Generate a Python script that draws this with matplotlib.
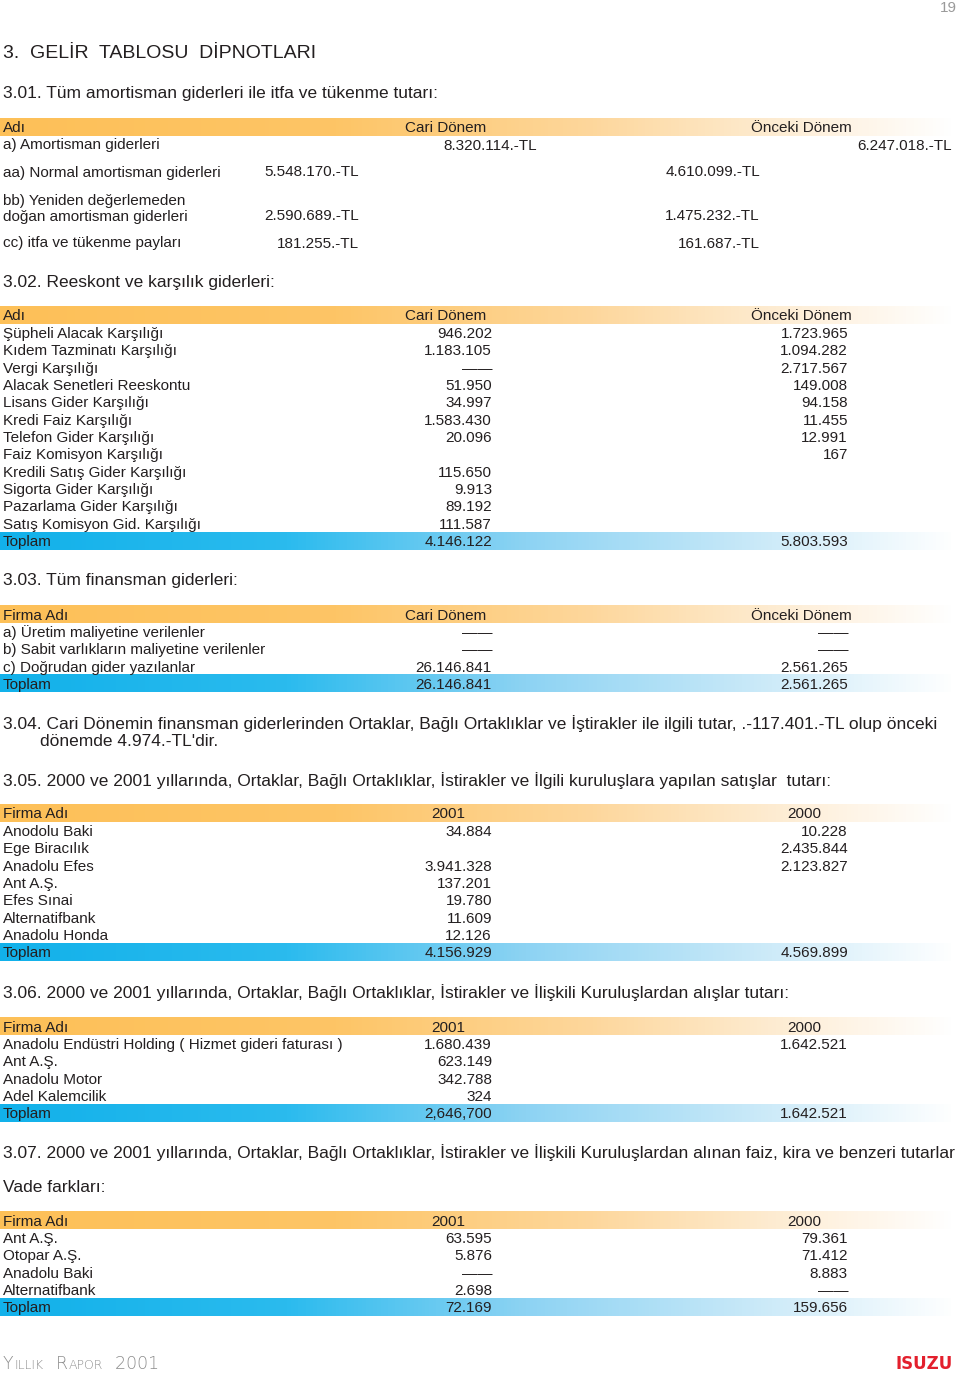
import numpy as np
import matplotlib.pyplot as plt
from matplotlib.colors import LinearSegmentedColormap

plt.rcParams['font.family'] = ['Liberation Sans', 'DejaVu Sans']

W, H = 960, 1373
DASH = '——'
TXT = '#231f20'

# 3.01 amortisman
amort_names = ['a) Amortisman giderleri', 'aa) Normal amortisman giderleri',
               'bb) Yeniden değerlemeden\ndoğan amortisman giderleri',
               'cc) itfa ve tükenme payları']
amort_cur = ['8.320.114.-TL', '5.548.170.-TL', '2.590.689.-TL', '181.255.-TL']
amort_prev = ['6.247.018.-TL', '4.610.099.-TL', '1.475.232.-TL', '161.687.-TL']

# 3.02 reeskont ve karşılık
rees_names = ['Şüpheli Alacak Karşılığı', 'Kıdem Tazminatı Karşılığı', 'Vergi Karşılığı',
              'Alacak Senetleri Reeskontu', 'Lisans Gider Karşılığı', 'Kredi Faiz Karşılığı',
              'Telefon Gider Karşılığı', 'Faiz Komisyon Karşılığı', 'Kredili Satış Gider Karşılığı',
              'Sigorta Gider Karşılığı', 'Pazarlama Gider Karşılığı', 'Satış Komisyon Gid. Karşılığı']
rees_cur = ['946.202', '1.183.105', DASH, '51.950', '34.997', '1.583.430', '20.096', '',
            '115.650', '9.913', '89.192', '111.587']
rees_prev = ['1.723.965', '1.094.282', '2.717.567', '149.008', '94.158', '11.455', '12.991',
             '167', '', '', '', '']
rees_total = ['4.146.122', '5.803.593']

# 3.03 finansman giderleri
fin_names = ['a) Üretim maliyetine verilenler', 'b) Sabit varlıkların maliyetine verilenler',
             'c) Doğrudan gider yazılanlar']
fin_cur = [DASH, DASH, '26.146.841']
fin_prev = [DASH, DASH, '2.561.265']
fin_total = ['26.146.841', '2.561.265']

# 3.05 satışlar
sat_names = ['Anodolu Baki', 'Ege Biracılık', 'Anadolu Efes', 'Ant A.Ş.', 'Efes Sınai',
             'Alternatifbank', 'Anadolu Honda']
sat_2001 = ['34.884', '', '3.941.328', '137.201', '19.780', '11.609', '12.126']
sat_2000 = ['10.228', '2.435.844', '2.123.827', '', '', '', '']
sat_total = ['4.156.929', '4.569.899']

# 3.06 alışlar
alis_names = ['Anadolu Endüstri Holding ( Hizmet gideri faturası )', 'Ant A.Ş.',
              'Anadolu Motor', 'Adel Kalemcilik']
alis_2001 = ['1.680.439', '623.149', '342.788', '324']
alis_2000 = ['1.642.521', '', '', '']
alis_total = ['2,646,700', '1.642.521']

# 3.07 vade farkları
vade_names = ['Ant A.Ş.', 'Otopar A.Ş.', 'Anadolu Baki', 'Alternatifbank']
vade_2001 = ['63.595', '5.876', DASH, '2.698']
vade_2000 = ['79.361', '71.412', '8.883', DASH]
vade_total = ['72.169', '159.656']

orange = LinearSegmentedColormap.from_list(
    'org', [(0, '#fdc058'), (0.35, '#fdc566'), (0.62, '#fdd79c'), (0.85, '#fef0dc'), (1, '#ffffff')])
blue = LinearSegmentedColormap.from_list(
    'blu', [(0, '#12b1ea'), (0.3, '#2bbbee'), (0.55, '#8dd3f3'), (0.78, '#c6e8f8'), (1, '#ffffff')])
grad = np.linspace(0, 1, 256).reshape(1, -1)

fig = plt.figure(figsize=(W / 100, H / 100), dpi=100)
ax = fig.add_axes([0, 0, 1, 1])
ax.set_xlim(0, W)
ax.set_ylim(H, 0)
ax.axis('off')

FS = 11
HS = 12.5
ROW = 17.35


def txt(x, y, s, ha='left', size=FS, **kw):
    kw.setdefault('color', TXT)
    ax.text(x, y, s, ha=ha, va='center_baseline', fontsize=size, **kw)


def bar(y, cmap):
    ax.imshow(grad, extent=[0, 955, y + 9, y - 9], cmap=cmap, aspect='auto', zorder=0)


def table(y, head, names, c1, c2, total, cols=(405, 751), right=(492, 848)):
    bar(y, orange)
    for x, s in zip((3,) + cols, head):
        txt(x, y, s)
    for i, (n, a, b) in enumerate(zip(names, c1, c2)):
        yy = y + ROW * (i + 1)
        txt(3, yy, n)
        txt(right[0], yy, a, ha='right')
        txt(right[1], yy, b, ha='right')
    if total:
        yy = y + ROW * (len(names) + 1)
        bar(yy, blue)
        txt(3, yy, 'Toplam')
        txt(right[0], yy, total[0], ha='right')
        txt(right[1], yy, total[1], ha='right')


# page header
txt(957, 6, '19', ha='right', size=11, color='#9a9a9a')
txt(3, 51, '3. GELİR TABLOSU DİPNOTLARI'.replace(' ', '  '), size=14)
txt(3, 92, '3.01. Tüm amortisman giderleri ile itfa ve tükenme tutarı:', size=HS)

# 3.01
bar(127, orange)
txt(3, 127, 'Adı')
txt(405, 127, 'Cari Dönem')
txt(751, 127, 'Önceki Dönem')
txt(3, 144, amort_names[0])
txt(537, 144, amort_cur[0], ha='right')
txt(952, 144, amort_prev[0], ha='right')
for yy, n, a, b in zip([171, 215, 242], amort_names[1:], amort_cur[1:], amort_prev[1:]):
    txt(3, yy - (8.5 if '\n' in n else 0), n, linespacing=1.15)
    txt(359, yy, a, ha='right')
    txt(760, yy, b, ha='right')

txt(3, 281, '3.02. Reeskont ve karşılık giderleri:', size=HS)
table(315, ['Adı', 'Cari Dönem', 'Önceki Dönem'], rees_names, rees_cur, rees_prev, rees_total)

txt(3, 579, '3.03. Tüm finansman giderleri:', size=HS)
table(614, ['Firma Adı', 'Cari Dönem', 'Önceki Dönem'], fin_names, fin_cur, fin_prev, fin_total)

txt(3, 722, '3.04. Cari Dönemin finansman giderlerinden Ortaklar, Bağlı Ortaklıklar ve İştirakler '
            'ile ilgili tutar, .-117.401.-TL olup önceki', size=HS)
txt(40, 740, "dönemde 4.974.-TL'dir.", size=HS)

txt(3, 779, '3.05. 2000 ve 2001 yıllarında, Ortaklar, Bağlı Ortaklıklar, İstirakler ve İlgili '
            'kuruluşlara yapılan satışlar  tutarı:', size=HS)
table(813, ['Firma Adı', '2001', '2000'], sat_names, sat_2001, sat_2000, sat_total, cols=(431, 787))

txt(3, 991, '3.06. 2000 ve 2001 yıllarında, Ortaklar, Bağlı Ortaklıklar, İstirakler ve İlişkili '
            'Kuruluşlardan alışlar tutarı:', size=HS)
table(1026, ['Firma Adı', '2001', '2000'], alis_names, alis_2001, alis_2000, alis_total, cols=(431, 787))

txt(3, 1151, '3.07. 2000 ve 2001 yıllarında, Ortaklar, Bağlı Ortaklıklar, İstirakler ve İlişkili '
             'Kuruluşlardan alınan faiz, kira ve benzeri tutarlar', size=HS)
txt(3, 1186, 'Vade farkları:', size=HS)
table(1220, ['Firma Adı', '2001', '2000'], vade_names, vade_2001, vade_2000, vade_total, cols=(431, 787))

# footer: small caps "Yıllık Rapor 2001"
renderer = fig.canvas.get_renderer()
x = 3
for s, size in [('Y', 12.5), ('ILLIK', 9), (' R', 12.5), ('APOR', 9), (' 2001', 12.5)]:
    t = ax.text(x, 1369, s.replace(' ', '  '), ha='left', va='baseline', fontsize=size,
                color='#8c8c8c', family='DejaVu Sans', fontweight='light')
    x = t.get_window_extent(renderer).x1 + 1
ax.text(953, 1369, 'ISUZU', ha='right', va='baseline', fontsize=12, fontweight='bold',
        color='#e3202d', family='DejaVu Sans')

fig.savefig('out.png', dpi=100)
